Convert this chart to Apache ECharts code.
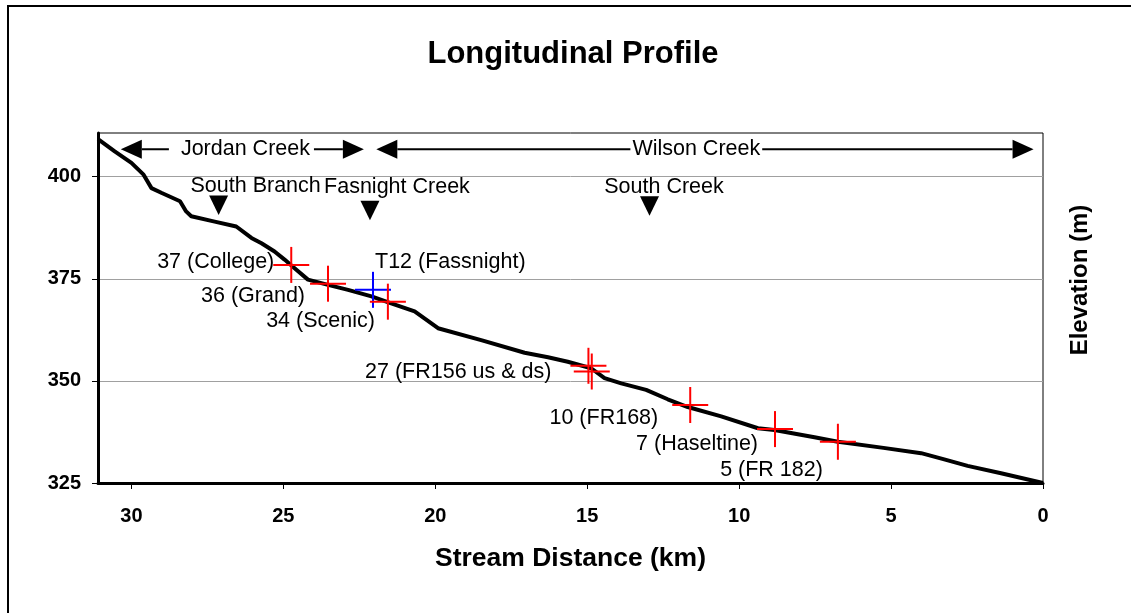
<!DOCTYPE html>
<html><head><meta charset="utf-8">
<script src="https://cdn.jsdelivr.net/npm/echarts@6/dist/echarts.min.js"></script>
<style>html,body{margin:0;padding:0;background:#fff}#c{width:1131px;height:613px}</style>
</head><body><div id="c"></div>
<script>
// ---- data ----
const profileKm   = [31.1, 30.55, 30.0, 29.6, 29.34, 29.0, 28.4, 28.2, 28.03, 27.26, 26.55, 26.05, 25.72, 25.29, 24.96, 24.63, 24.19, 23.53, 22.87, 22.1, 21.45, 20.68, 20.3, 19.91, 18.49, 17.06, 16.29, 15.64, 14.87, 14.43, 13.88, 13.06, 12.35, 11.69, 10.59, 9.38, 8.84, 7.52, 6.75, 5.25, 4.01, 3.25, 2.48, 1.38, 0];
const profileElev = [409.2, 406.2, 403.4, 400.5, 397.2, 396.0, 394.0, 391.5, 390.3, 389.0, 387.8, 385.0, 383.7, 381.7, 379.7, 377.6, 374.8, 373.5, 372.3, 370.7, 369.0, 367.0, 365.0, 362.9, 360.0, 356.9, 355.8, 354.7, 353.1, 350.7, 349.4, 347.8, 345.5, 343.6, 341.3, 338.4, 338.0, 336.2, 335.1, 333.6, 332.3, 330.8, 329.2, 327.4, 325.0];

const siteLabels = ['37 (College)', '36 (Grand)', '34 (Scenic)', '27 (FR156 us & ds)', '', '10 (FR168)', '7 (Haseltine)', '5 (FR 182)'];
const siteKm     = [24.74, 23.53, 21.56, 14.96, 14.85, 11.61, 8.82, 6.75];
const siteElev   = [378.4, 373.8, 369.4, 353.7, 352.3, 344.1, 338.2, 335.1];

const tribSiteLabels = ['T12 (Fassnight)'];
const tribSiteKm     = [22.05];
const tribSiteElev   = [372.3];

const reachNames  = ['Jordan Creek', 'Wilson Creek'];
const reachFromKm = [30.35, 21.94];
const reachToKm   = [22.35, 0.31];
const reachTextKm = [26.38, 11.41];
const reachElev   = [406.7, 406.7];

const confluenceNames = ['South Branch', 'Fasnight Creek', 'South Creek'];
const confluenceKm    = [27.13, 22.15, 12.95];
const confluenceElev  = [393.0, 391.7, 392.8];

const xTicks = [0, 5, 10, 15, 20, 25, 30];
const yTicks = [325, 350, 375, 400];

// ---- layout / style (pixel offsets for annotation text) ----
const siteLabelLayout = [[-17,-3,'right'],[-23,12,'right'],[-13,19,'right'],[-37,6,'right'],[0,0,'right'],[-32,13,'right'],[-17,15,'right'],[-15,28,'right']];
const tribSiteLabelLayout = [[2,-28,'left']];
const confluenceTextLayout = [[37,-19],[27,-24],[14.5,-19]];
const reachTextPad = [[0,4,0,12],[0,2,0,2]];

const FONT = '"Liberation Sans", Arial, Helvetica, sans-serif';
const ANN = 21.5;

function crossRenderer(color, labels, layout) {
  return function (params, api) {
    const i = api.value(2);
    const p = api.coord([api.value(0), api.value(1)]);
    const h = 18;
    const ch = [
      {type:'line', shape:{x1:p[0]-h, y1:p[1], x2:p[0]+h, y2:p[1]}, style:{stroke:color, lineWidth:2}},
      {type:'line', shape:{x1:p[0], y1:p[1]-h, x2:p[0], y2:p[1]+h}, style:{stroke:color, lineWidth:2}}
    ];
    if (labels[i]) {
      const L = layout[i];
      ch.push({type:'text', x:p[0]+L[0], y:p[1]+L[1], style:{text:labels[i], fill:'#000', fontSize:ANN, fontFamily:FONT, align:L[2], verticalAlign:'middle'}});
    }
    return {type:'group', children:ch};
  };
}

function reachRenderer(params, api) {
  const i = api.value(3);
  const a = api.coord([api.value(0), api.value(2)]);
  const b = api.coord([api.value(1), api.value(2)]);
  const t = api.coord([api.value(4), api.value(2)]);
  const y = a[1], hl = 21, hw = 9.5;
  return {type:'group', children:[
    {type:'line', shape:{x1:a[0]+hl, y1:y, x2:b[0]-hl, y2:y}, style:{stroke:'#000', lineWidth:2}},
    {type:'polygon', shape:{points:[[a[0],y],[a[0]+hl,y-hw],[a[0]+hl,y+hw]]}, style:{fill:'#000'}},
    {type:'polygon', shape:{points:[[b[0],y],[b[0]-hl,y-hw],[b[0]-hl,y+hw]]}, style:{fill:'#000'}},
    {type:'text', x:t[0], y:y, style:{text:reachNames[i], fill:'#000', fontSize:ANN, fontFamily:FONT, align:'center', verticalAlign:'middle', backgroundColor:'#fff', padding:reachTextPad[i]}}
  ]};
}

function confluenceRenderer(params, api) {
  const i = api.value(2);
  const p = api.coord([api.value(0), api.value(1)]);
  const w = 9.5, h = 9.75;
  const L = confluenceTextLayout[i];
  return {type:'group', children:[
    {type:'polygon', shape:{points:[[p[0]-w,p[1]-h],[p[0]+w,p[1]-h],[p[0],p[1]+h]]}, style:{fill:'#000'}},
    {type:'text', x:p[0]+L[0], y:p[1]+L[1], style:{text:confluenceNames[i], fill:'#000', fontSize:ANN, fontFamily:FONT, align:'center', verticalAlign:'middle'}}
  ]};
}

const chart = echarts.init(document.getElementById('c'), null, {renderer:'canvas'});
chart.setOption({
  animation:false,
  backgroundColor:'#fff',
  grid:{left:98, right:88, top:133, bottom:130, show:true, borderColor:'#000', borderWidth:1, backgroundColor:'transparent'},
  xAxis:{
    type:'value', inverse:true, min:0, max:31.1, interval:5,
    name:'Stream Distance (km)', nameLocation:'middle', nameGap:62,
    nameTextStyle:{fontSize:26.5, fontWeight:'bold', fontFamily:FONT, color:'#000'},
    axisLine:{show:true, onZero:false, lineStyle:{color:'#000', width:3}},
    axisTick:{show:true, length:6, inside:false, customValues:xTicks, lineStyle:{color:'#000', width:1}},
    axisLabel:{margin:23, fontSize:20, fontWeight:'bold', fontFamily:FONT, color:'#000', customValues:xTicks,
      formatter:v => xTicks.indexOf(v) >= 0 ? String(v) : ''},
    splitLine:{show:false}
  },
  yAxis:{
    type:'value', min:325, max:410.7, interval:25,
    axisLine:{show:true, onZero:false, lineStyle:{color:'#000', width:3}},
    axisTick:{show:true, length:6, inside:false, customValues:yTicks, lineStyle:{color:'#000', width:1}},
    axisLabel:{margin:17, fontSize:20, fontWeight:'bold', fontFamily:FONT, color:'#000', customValues:yTicks,
      formatter:v => yTicks.indexOf(v) >= 0 ? String(v) : ''},
    splitLine:{show:true, lineStyle:{color:'#a0a0a0', width:1}}
  },
  graphic:[
    {type:'rect', shape:{x:8, y:6, width:1300, height:800}, style:{fill:'none', stroke:'#000', lineWidth:2}, z:100},
    {type:'text', x:573, y:54, style:{text:'Longitudinal Profile', fill:'#000', fontSize:31, fontWeight:'bold', fontFamily:FONT, align:'center', verticalAlign:'middle'}},
    {type:'text', x:1080, y:280, rotation:Math.PI/2, style:{text:'Elevation (m)', fill:'#000', fontSize:24, fontWeight:'bold', fontFamily:FONT, align:'center', verticalAlign:'middle'}}
  ],
  series:[
    {type:'line', data:profileKm.map((k,i)=>[k, profileElev[i]]), showSymbol:false, lineStyle:{color:'#000', width:4}, z:2},
    {type:'custom', renderItem:crossRenderer('#0000ff', tribSiteLabels, tribSiteLabelLayout), data:tribSiteKm.map((k,i)=>[k, tribSiteElev[i], i]), z:3, clip:false},
    {type:'custom', renderItem:crossRenderer('#ff0000', siteLabels, siteLabelLayout), data:siteKm.map((k,i)=>[k, siteElev[i], i]), z:4, clip:false},
    {type:'custom', renderItem:reachRenderer, data:reachNames.map((n,i)=>[reachFromKm[i], reachToKm[i], reachElev[i], i, reachTextKm[i]]), z:5, clip:false},
    {type:'custom', renderItem:confluenceRenderer, data:confluenceNames.map((n,i)=>[confluenceKm[i], confluenceElev[i], i]), z:5, clip:false}
  ]
});
</script></body></html>
